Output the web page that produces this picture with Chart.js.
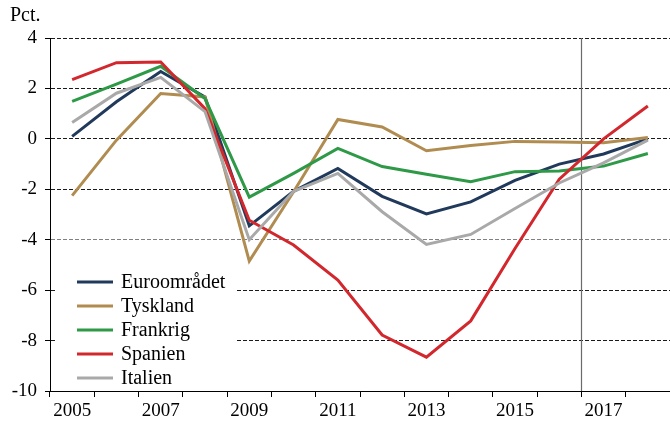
<!DOCTYPE html>
<html>
<head>
<meta charset="utf-8">
<script src="https://cdn.jsdelivr.net/npm/chart.js@4/dist/chart.umd.min.js"></script>
<style>
  html, body { margin: 0; padding: 0; background: #fff; }
  #wrap { width: 670px; height: 422px; }
</style>
</head>
<body>
<div id="wrap"><canvas id="chartCanvas" width="670" height="422"></canvas></div>
<script>
// years on the x axis
const years = ["2005", "2006", "2007", "2008", "2009", "2010", "2011",
  "2012", "2013", "2014", "2015", "2016", "2017", "2018"];

// budget balance, pct.
const euroomraadet = [0.1, 1.47, 2.67, 1.66, -3.45, -2.08, -1.17, -2.28, -2.98, -2.5, -1.65, -1.0, -0.6, 0.0];
const tyskland = [-2.25, -0.05, 1.8, 1.66, -4.85, -2.1, 0.77, 0.47, -0.47, -0.26, -0.1, -0.12, -0.15, 0.05];
const frankrig = [1.49, 2.17, 2.88, 1.6, -2.31, -1.37, -0.38, -1.1, -1.4, -1.7, -1.3, -1.27, -1.08, -0.58];
const spanien = [2.35, 3.02, 3.05, 1.2, -3.23, -4.21, -5.6, -7.78, -8.66, -7.22, -4.35, -1.6, 0.0, 1.3];
const italien = [0.65, 1.81, 2.44, 1.08, -4.0, -2.08, -1.37, -2.89, -4.19, -3.79, -2.76, -1.75, -0.95, -0.05];

// first forecast year (vertical line drawn before it)
const forecastStart = "2017";

const serif = "'Liberation Serif', 'Times New Roman', serif";

// line before the forecast period
const forecastLine = {
  id: "forecastLine",
  beforeDatasetsDraw(chart) {
    const x = chart.scales.x;
    const area = chart.chartArea;
    const i = years.indexOf(forecastStart);
    const px = (x.getPixelForValue(i - 1) + x.getPixelForValue(i)) / 2;
    const c = chart.ctx;
    c.save();
    c.strokeStyle = "#6b6b6b";
    c.lineWidth = 1.2;
    c.beginPath();
    c.moveTo(Math.round(px) + 0.5, area.top);
    c.lineTo(Math.round(px) + 0.5, area.bottom);
    c.stroke();
    c.restore();
  }
};

// legend in lower left corner of the plot
const innerLegend = {
  id: "innerLegend",
  beforeDatasetsDraw(chart) {
    const c = chart.ctx;
    const area = chart.chartArea;
    const left = area.left + 5;
    const top = area.bottom - 126;
    c.save();
    c.fillStyle = "#fff";
    c.fillRect(left, top, 180, 122);
    c.font = "20px " + serif;
    c.textBaseline = "middle";
    chart.data.datasets.forEach((ds, k) => {
      const y = top + 17 + k * 24;
      c.strokeStyle = ds.borderColor;
      c.lineWidth = 3;
      c.beginPath();
      c.moveTo(left + 22, y);
      c.lineTo(left + 58, y);
      c.stroke();
      c.fillStyle = "#000";
      c.fillText(ds.label, left + 66, y + 1);
    });
    c.restore();
  }
};

const mkSet = (label, data, color, order) => ({
  label, data,
  borderColor: color,
  backgroundColor: color,
  borderWidth: 3,
  pointRadius: 0,
  tension: 0,
  order
});

new Chart(document.getElementById("chartCanvas").getContext("2d"), {
  type: "line",
  data: {
    labels: years,
    datasets: [
      mkSet("Euroområdet", euroomraadet, "#213a5c", 5),
      mkSet("Tyskland", tyskland, "#b18c50", 4),
      mkSet("Frankrig", frankrig, "#2e9a47", 3),
      mkSet("Spanien", spanien, "#d2282d", 2),
      mkSet("Italien", italien, "#a9a9a9", 1)
    ]
  },
  options: {
    responsive: false,
    animation: false,
    layout: { padding: { left: 10, right: 0, top: 0, bottom: 0 } },
    plugins: {
      legend: { display: false },
      tooltip: { enabled: false },
      title: {
        display: true,
        text: "Pct.",
        align: "start",
        color: "#000",
        font: { family: serif, size: 20, weight: "normal" },
        padding: { top: 4, bottom: 10 }
      }
    },
    scales: {
      x: {
        type: "category",
        offset: true,
        border: { display: true, color: "#000", width: 1 },
        grid: { drawOnChartArea: false, drawTicks: true, tickLength: 6, color: "#000", offset: true },
        ticks: {
          autoSkip: false,
          maxRotation: 0,
          color: "#000",
          padding: 3,
          font: { family: serif, size: 19 },
          callback: (v, i) => (i % 2 === 0 ? years[i] : "")
        },
        afterFit: (s) => { s.height = 31; }
      },
      y: {
        min: -10,
        max: 4,
        border: { display: true, color: "#000", width: 1, dash: [4, 2] },
        grid: {
          color: (ctx) => (ctx.tick && ctx.tick.value === -4 ? "#808080" : "#1a1a1a"),
          lineWidth: 1,
          tickBorderDash: [],
          tickColor: "#000",
          tickLength: 5
        },
        ticks: {
          stepSize: 2,
          color: "#000",
          padding: 8,
          font: { family: serif, size: 19 }
        },
        afterFit: (s) => { s.width = 40; }
      }
    }
  },
  plugins: [forecastLine, innerLegend]
});
</script>
</body>
</html>
